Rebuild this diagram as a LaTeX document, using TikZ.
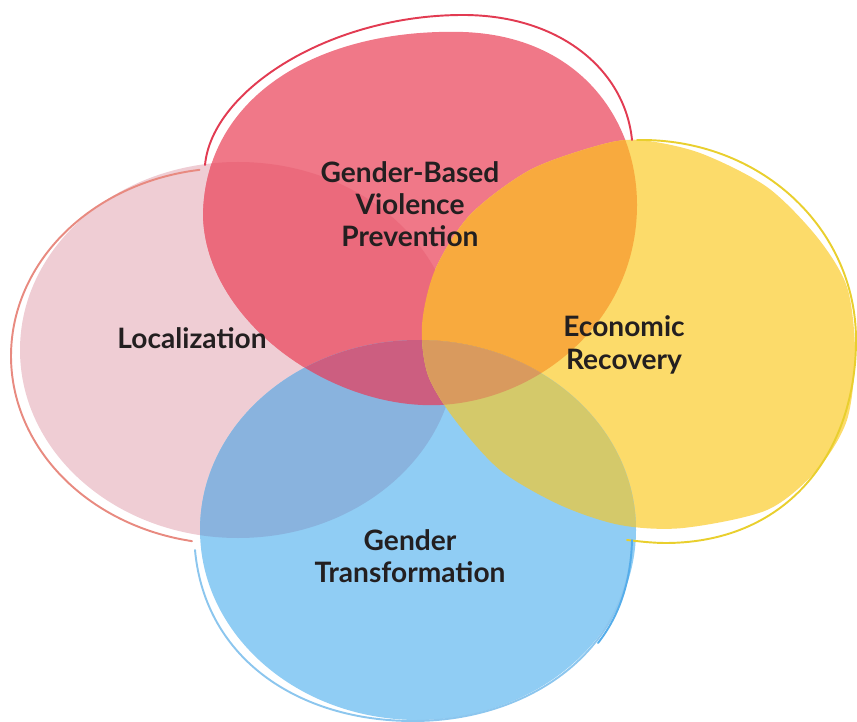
\documentclass[tikz,border=0pt]{standalone}
\usepackage{fontspec}
\setmainfont{Lato}
\definecolor{locfill}{HTML}{EFCDD4}
\definecolor{gbvfill}{HTML}{F07888}
\definecolor{ecofill}{HTML}{FCDB6A}
\definecolor{gtfill}{HTML}{90CDF4}
\definecolor{locgbv}{HTML}{EB6A7C}
\definecolor{gbveco}{HTML}{F8AA3E}
\definecolor{locgt}{HTML}{89B3DE}
\definecolor{ecogt}{HTML}{D4C96A}
\definecolor{gbvgt}{HTML}{CC5E80}
\definecolor{allthree}{HTML}{D99A5E}
\definecolor{locline}{HTML}{E88A80}
\definecolor{gbvline}{HTML}{E23B52}
\definecolor{ecoline}{HTML}{E9CF2E}
\definecolor{gtline}{HTML}{8CC6EE}
\definecolor{gtlinedark}{HTML}{55ADEA}
\definecolor{labelink}{HTML}{231F20}

% the four blobs, in pixel units
\newcommand{\locshape}{(238,350) ellipse [x radius=218, y radius=188]}
\newcommand{\gbvshape}{(203,215) .. controls (205,95) and (320,28) .. (463,32)
  .. controls (580,36) and (637,120) .. (637,205)
  .. controls (637,320) and (540,400) .. (440,405)
  .. controls (330,410) and (205,320) .. (203,215) -- cycle}
\newcommand{\ecoshape}{plot[smooth cycle] coordinates {(422,325) (435,270) (470,215) (530,170)
  (600,145) (640,140) (700,153) (767,187) (817,237) (847,287) (855,353) (847,420) (817,470)
  (767,510) (683,528) (620,525) (560,505) (500,470) (455,420) (428,375)}}
\newcommand{\gtshape}{(418,530) ellipse [x radius=218, y radius=190]}

\begin{document}
\begin{tikzpicture}[x=0.02cm,y=-0.02cm,
  rim/.style={line width=1.1pt,line cap=round},
  blobtext/.style={text=labelink,align=center,
    font=\bfseries\fontsize{16}{18.4}\selectfont}]
  \useasboundingbox (0,0) rectangle (857,722);

  \fill[locfill] \locshape;
  \fill[gbvfill] \gbvshape;
  \fill[ecofill] \ecoshape;
  \fill[gtfill] \gtshape;

  \begin{scope}
    \clip \locshape;
    \fill[locgbv] \gbvshape;
    \fill[locgt] \gtshape;
  \end{scope}
  \begin{scope}
    \clip \gbvshape;
    \fill[gbveco] \ecoshape;
    \fill[gbvgt] \gtshape;
    \clip \ecoshape;
    \fill[allthree] \gtshape;
  \end{scope}
  \begin{scope}
    \clip \ecoshape;
    \clip \gtshape;
    \fill[ecogt] (0,0) rectangle (857,722);
    \clip \gbvshape;
    \fill[allthree] (0,0) rectangle (857,722);
  \end{scope}

  % outer rims
  \draw[rim,locline] plot[domain=100:262,samples=60,smooth]
    ({230+219*cos(\x)},{356+188*sin(\x)});
  \draw[rim,gbvline] (205,165) .. controls (212,90) and (330,15) .. (463,15)
    .. controls (560,15) and (625,70) .. (632,140);
  \draw[rim,ecoline] (637,140) .. controls (760,138) and (856,228) .. (856,340)
    .. controls (856,450) and (790,542) .. (667,543)
    .. controls (650,543) and (637,541) .. (627,540);
  \draw[rim,gtline] (195,550) .. controls (205,660) and (300,721) .. (413,721)
    .. controls (530,721) and (630,650) .. (632,540);
  \draw[rim,gtlinedark] (598,643) .. controls (620,615) and (631,580) .. (632,540);

  \node[blobtext] (gbv) at (410,204) {Gender-Based\\Violence\\Prevention};
  \node[blobtext] (loc) at (192,338) {Localization};
  \node[blobtext] (eco) at (624,345) {Economic\\Recovery};
  \node[blobtext] (gt) at (410,556) {Gender\\Transformation};
\end{tikzpicture}
\end{document}
